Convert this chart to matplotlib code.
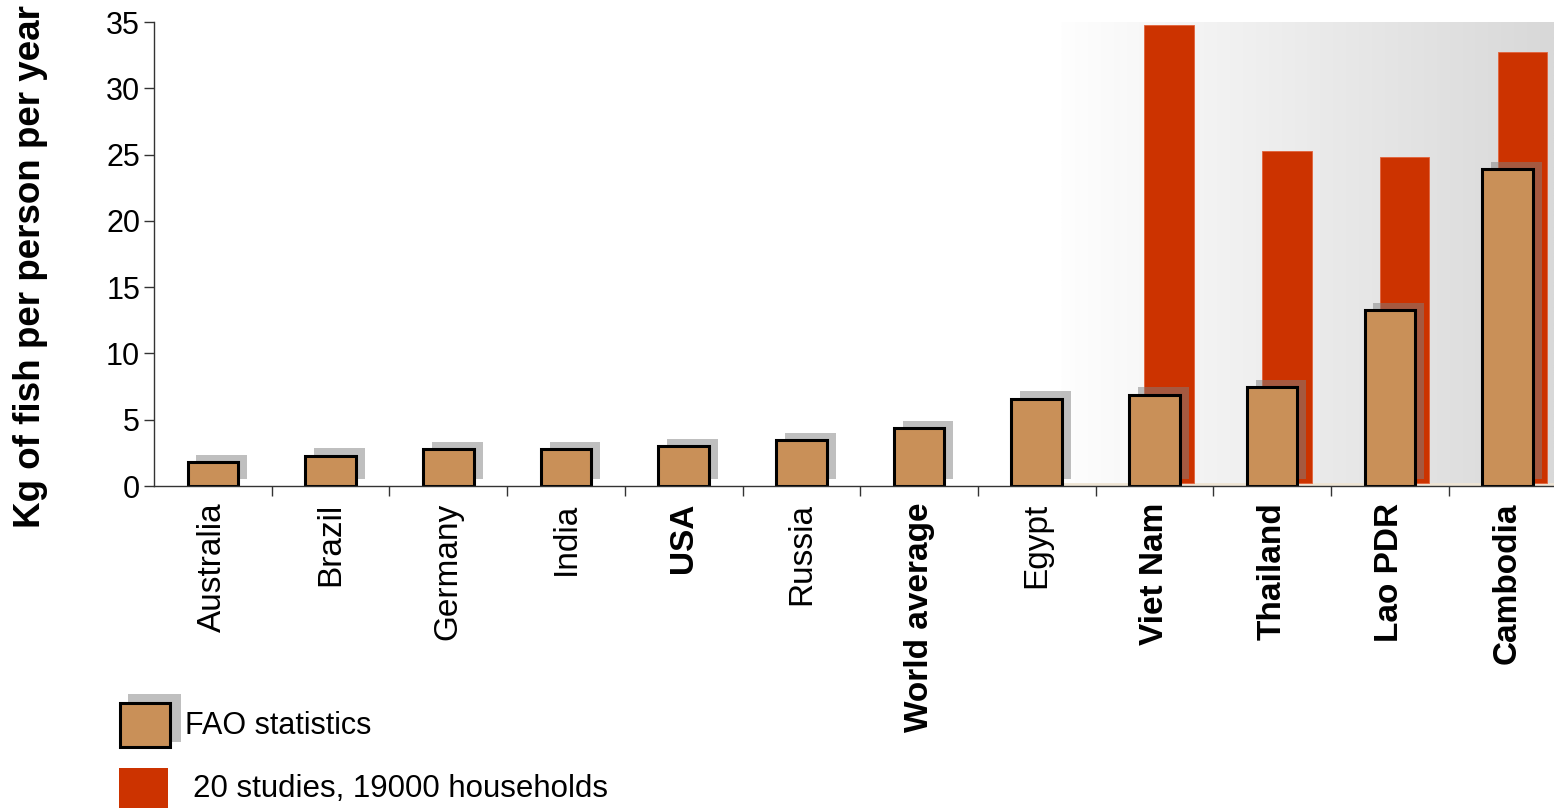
import matplotlib
matplotlib.use("Agg")
import matplotlib.pyplot as plt
import numpy as np
from matplotlib.patches import Rectangle

plt.rcParams['font.family'] = ['Liberation Sans', 'DejaVu Sans']

# ---- data ----
categories = ['Australia', 'Brazil', 'Germany', 'India', 'USA', 'Russia',
              'World average', 'Egypt', 'Viet Nam', 'Thailand', 'Lao PDR', 'Cambodia']
fao_values = [1.8, 2.3, 2.8, 2.8, 3.0, 3.5, 4.4, 6.6, 6.9, 7.5, 13.3, 23.9]
bold_labels = ['USA', 'World average', 'Viet Nam', 'Thailand', 'Lao PDR', 'Cambodia']
survey_categories = ['Viet Nam', 'Thailand', 'Lao PDR', 'Cambodia']
survey_values = [34.8, 25.3, 24.8, 32.7]
y_ticks = [0, 5, 10, 15, 20, 25, 30, 35]

FAO_COLOR = '#c99058'
RED = '#cc3300'

W, H = 1554, 808
fig = plt.figure(figsize=(W / 100, H / 100), dpi=100)
ax_left, ax_bottom, ax_top = 154, 486, 22
ax = fig.add_axes([ax_left / W, (H - ax_bottom) / H, (W - ax_left) / W, (ax_bottom - ax_top) / H])

xmax = -0.5 + (W - ax_left) / 117.7
ax.set_xlim(-0.5, xmax)
ax.set_ylim(0, 35)

x = np.arange(len(categories))

# gradient background behind the survey countries
grad = np.linspace(254, 216, 256) / 255.0
img = np.dstack([grad, grad, grad]).repeat(2, axis=0)
ax.imshow(img, extent=[7.21, xmax, 0, 35], aspect='auto', zorder=0, interpolation='bilinear')
ax.plot([7.05, xmax], [0.18, 0.18], color='#efe5d4', lw=2, zorder=1, solid_capstyle='butt')

bw = 0.43
# survey bars (red), slightly offset right and raised
for cat, val in zip(survey_categories, survey_values):
    i = categories.index(cat)
    ax.bar(i + 0.125, val - 0.25, bottom=0.25, width=0.42, color=RED,
           edgecolor='#e2623a', linewidth=0.6, zorder=2)

# shadows
dx, dy = 0.076, 0.53
ax.bar(x + dx, fao_values, bottom=dy, width=bw, color='#808080', alpha=0.5,
       linewidth=0, zorder=3)
# FAO bars
ax.bar(x, fao_values, width=bw, color=FAO_COLOR, edgecolor='black',
       linewidth=2.2, zorder=4)

# axes styling
for s in ['top', 'right']:
    ax.spines[s].set_visible(False)
for s in ['left', 'bottom']:
    ax.spines[s].set_color('#333333')
    ax.spines[s].set_linewidth(1.0)
    ax.spines[s].set_zorder(6)
ax.set_facecolor('none')

ax.set_yticks(y_ticks)
ax.set_yticklabels([str(v) for v in y_ticks], fontsize=22)
ax.tick_params(axis='y', length=7, width=1, pad=3, color='#333333')

ax.set_xticks(x)
ax.set_xticklabels(categories, rotation=90, fontsize=24, va='top', ha='center')
ax.tick_params(axis='x', which='major', length=0, pad=12)
ax.set_xticks(np.arange(0.5, len(categories) - 0.5, 1.0), minor=True)
ax.tick_params(axis='x', which='minor', length=7, width=1, color='#333333')
for lbl in ax.get_xticklabels():
    if lbl.get_text() in bold_labels:
        lbl.set_fontweight('bold')

fig.text(31 / W, (H - 267) / H, 'Kg of fish per person per year', rotation=90,
         fontsize=26.5, fontweight='bold', ha='center', va='center')

# legend drawn in pixel coordinates on an overlay axes
lg = fig.add_axes([0, 0, 1, 1])
lg.set_xlim(0, W)
lg.set_ylim(H, 0)
lg.axis('off')
lg.add_patch(Rectangle((128, 694), 53, 48, facecolor='#808080', alpha=0.5, linewidth=0))
lg.add_patch(Rectangle((120, 703), 50, 44, facecolor=FAO_COLOR, edgecolor='black', linewidth=2.2))
lg.text(185, 726, 'FAO statistics', fontsize=22, va='center', ha='left')
lg.add_patch(Rectangle((119, 768), 49, 45, facecolor=RED, linewidth=0))
lg.text(193, 789, '20 studies, 19000 households', fontsize=22.5, va='center', ha='left')

fig.savefig('out.png', dpi=100)
